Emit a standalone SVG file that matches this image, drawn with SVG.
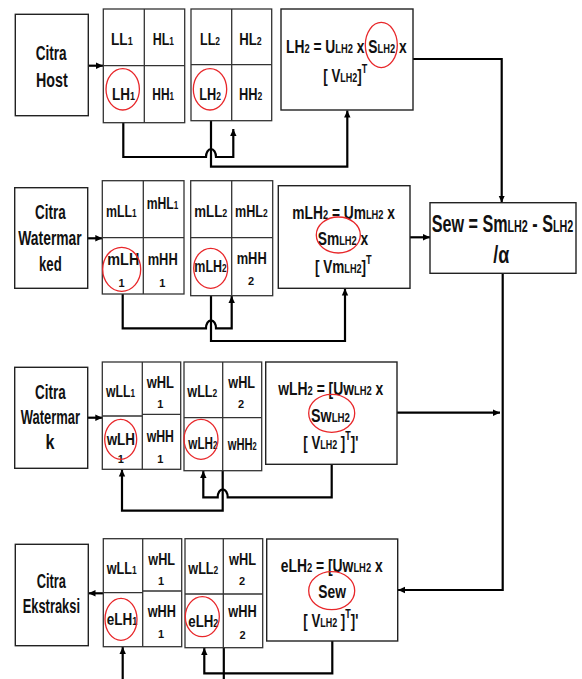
<svg xmlns="http://www.w3.org/2000/svg" width="582" height="679" viewBox="0 0 582 679">
<defs>
<marker id="ah" markerUnits="userSpaceOnUse" markerWidth="8" markerHeight="8" refX="7" refY="4" orient="auto">
<path d="M0,0.8 L7,4 L0,7.2 z" fill="#000"/>
</marker>
<style>
.box{fill:#fff;stroke:#222;stroke-width:1.4}
.grid{fill:none;stroke:#333;stroke-width:1.3}
.c{fill:none;stroke:#000;stroke-width:2.2}
.ca{fill:none;stroke:#000;stroke-width:2.2;marker-end:url(#ah)}
.ring{fill:none;stroke:#e8272a;stroke-width:1.3}
text{font-family:"Liberation Sans Narrow","Liberation Sans",Arial,sans-serif;font-weight:bold;fill:#111}
.big{font-size:20px}
.lab{font-size:16.5px}
.s{font-size:11px}
.f{font-size:18.5px}
.fs{font-size:12.5px}
.one{font-size:11px;text-anchor:middle}
</style>
</defs>

<g id="connectors">
<path class="ca" d="M88.3,65.7 H103"/>
<path class="ca" d="M123.3,122.7 V157 H206 A5,8 0 0 1 216,157 H233.3 V129"/>
<path class="ca" d="M211,120.7 V166.7 H347.3 V110.5"/>
<path class="ca" d="M413,59 H501.7 V202.5"/>
<path class="ca" d="M87.7,238.3 H102.3"/>
<path class="ca" d="M122.7,294 V328.3 H206 A5,8 0 0 1 216,328.3 H231.7 V296"/>
<path class="ca" d="M211,295.7 V341 H345 V288.5"/>
<path class="ca" d="M410,237.3 H430"/>
<path class="ca" d="M502.7,273.3 V590 H398"/>
<path class="ca" d="M87.7,417.7 H102.3"/>
<path class="ca" d="M397,412.7 H500"/>
<path class="ca" d="M222.7,470.7 V510.7 H122 V469.5"/>
<path class="ca" d="M331.7,464.3 V497.3 H227.7 A5,8 0 0 0 217.7,497.3 H203.3 V471"/>
<path class="ca" d="M103.3,593.3 H88.5"/>
<path class="ca" d="M122.7,679 V647"/>
<path class="ca" d="M332.3,641 V673.3 H204.3 V648"/>
<path class="c" d="M223.8,647.7 V679"/>
</g>

<g id="citra-host">
<rect class="box" x="15.3" y="14.3" width="73" height="101.4"/>
<text class="big" x="35.7" y="60" textLength="31" lengthAdjust="spacingAndGlyphs">Citra</text>
<text class="big" x="36" y="86.7" textLength="31.7" lengthAdjust="spacingAndGlyphs">Host</text>
</g>

<g id="grid-host-1">
<rect class="grid" x="103.3" y="9" width="81.4" height="113.7"/>
<path class="grid" d="M144.3,9 V122.7 M103.3,65.7 H184.7"/>
<text class="lab" x="111" y="45" textLength="21.7" lengthAdjust="spacingAndGlyphs">LL<tspan class="s">1</tspan></text>
<text class="lab" x="152.7" y="45" textLength="21.3" lengthAdjust="spacingAndGlyphs">HL<tspan class="s">1</tspan></text>
<text class="lab" x="112" y="100" textLength="23" lengthAdjust="spacingAndGlyphs">LH<tspan class="s">1</tspan></text>
<text class="lab" x="152.3" y="100" textLength="21.7" lengthAdjust="spacingAndGlyphs">HH<tspan class="s">1</tspan></text>
<ellipse class="ring" cx="122.7" cy="89.3" rx="16.7" ry="20.7"/>
</g>

<g id="grid-host-2">
<rect class="grid" x="191" y="9" width="80.7" height="111.7"/>
<path class="grid" d="M231.7,9 V120.7 M191,64.7 H271.7"/>
<text class="lab" x="200" y="45" textLength="20" lengthAdjust="spacingAndGlyphs">LL<tspan class="s">2</tspan></text>
<text class="lab" x="239.3" y="45" textLength="22.4" lengthAdjust="spacingAndGlyphs">HL<tspan class="s">2</tspan></text>
<text class="lab" x="199.3" y="100" textLength="21.7" lengthAdjust="spacingAndGlyphs">LH<tspan class="s">2</tspan></text>
<text class="lab" x="239" y="100" textLength="23.3" lengthAdjust="spacingAndGlyphs">HH<tspan class="s">2</tspan></text>
<ellipse class="ring" cx="210" cy="89.3" rx="16.7" ry="20.7"/>
</g>

<g id="svd-host">
<rect class="box" x="281" y="9" width="132" height="101"/>
<text class="f" x="286" y="53.3" textLength="120.7" lengthAdjust="spacingAndGlyphs">LH<tspan class="fs">2</tspan> = U<tspan class="fs">LH2</tspan> x S<tspan class="fs">LH2</tspan> x</text>
<text class="f" x="323.3" y="81.7" textLength="44" lengthAdjust="spacingAndGlyphs">[ V<tspan class="fs">LH2</tspan>]<tspan class="fs" dy="-9">T</tspan></text>
<ellipse class="ring" cx="381.3" cy="45" rx="16" ry="22.6"/>
</g>

<g id="citra-watermarked">
<rect class="box" x="14.7" y="187.7" width="73" height="100.6"/>
<text class="big" x="35" y="219.3" textLength="30.7" lengthAdjust="spacingAndGlyphs">Citra</text>
<text class="big" x="18.3" y="245" textLength="63.4" lengthAdjust="spacingAndGlyphs">Watermar</text>
<text class="big" x="39" y="270.7" textLength="22.7" lengthAdjust="spacingAndGlyphs">ked</text>
</g>

<g id="grid-wm-1">
<rect class="grid" x="102.3" y="180.7" width="81.7" height="113.3"/>
<path class="grid" d="M143.3,180.7 V294 M102.3,237.7 H184"/>
<text class="lab" x="106" y="216.7" textLength="30.7" lengthAdjust="spacingAndGlyphs">mLL<tspan class="s">1</tspan></text>
<text class="lab" x="146.7" y="209.3" textLength="31.6" lengthAdjust="spacingAndGlyphs">mHL<tspan class="s">1</tspan></text>
<text class="lab" x="107.3" y="265" textLength="32" lengthAdjust="spacingAndGlyphs">mLH</text>
<text class="one" x="121.5" y="286.7">1</text>
<text class="lab" x="147.7" y="265" textLength="30" lengthAdjust="spacingAndGlyphs">mHH</text>
<text class="one" x="162.3" y="286.7">1</text>
<ellipse class="ring" cx="121.7" cy="269.3" rx="19" ry="22"/>
</g>

<g id="grid-wm-2">
<rect class="grid" x="190.7" y="180.7" width="82" height="115"/>
<path class="grid" d="M231.7,180.7 V295.7 M190.7,237.7 H272.7"/>
<text class="lab" x="194.3" y="216.7" textLength="33" lengthAdjust="spacingAndGlyphs">mLL<tspan class="s">2</tspan></text>
<text class="lab" x="235" y="216.7" textLength="32.7" lengthAdjust="spacingAndGlyphs">mHL<tspan class="s">2</tspan></text>
<text class="lab" x="194.3" y="271.7" textLength="32.4" lengthAdjust="spacingAndGlyphs">mLH<tspan class="s">2</tspan></text>
<text class="lab" x="236.7" y="264.3" textLength="30" lengthAdjust="spacingAndGlyphs">mHH</text>
<text class="one" x="251" y="285">2</text>
<ellipse class="ring" cx="210.7" cy="268.3" rx="17" ry="20"/>
</g>

<g id="svd-wm">
<rect class="box" x="278.3" y="185.7" width="131.7" height="102.6"/>
<text class="f" x="292.3" y="219.3" textLength="102.7" lengthAdjust="spacingAndGlyphs">mLH<tspan class="fs">2</tspan> = Um<tspan class="fs">LH2</tspan> x</text>
<text class="f" x="317.7" y="245" textLength="50.6" lengthAdjust="spacingAndGlyphs">Sm<tspan class="fs">LH2</tspan> x</text>
<text class="f" x="315" y="272.7" textLength="56.7" lengthAdjust="spacingAndGlyphs">[ Vm<tspan class="fs">LH2</tspan>]<tspan class="fs" dy="-9">T</tspan></text>
<ellipse class="ring" cx="338.3" cy="235" rx="22" ry="18"/>
</g>

<g id="sew">
<rect class="box" x="430" y="202.7" width="146" height="70.6"/>
<text style="font-size:24px" x="431.7" y="231.7" textLength="141.6" lengthAdjust="spacingAndGlyphs">Sew = Sm<tspan style="font-size:16px">LH2</tspan> - S<tspan style="font-size:16px">LH2</tspan></text>
<text style="font-size:24px" x="493.3" y="263.3" textLength="16" lengthAdjust="spacingAndGlyphs">/α</text>
</g>

<g id="citra-watermark">
<rect class="box" x="14.7" y="367.3" width="73" height="101"/>
<text class="big" x="35" y="399.3" textLength="30.7" lengthAdjust="spacingAndGlyphs">Citra</text>
<text class="big" x="20.7" y="424" textLength="59.3" lengthAdjust="spacingAndGlyphs">Watermar</text>
<text class="big" x="50" y="449" text-anchor="middle" textLength="9" lengthAdjust="spacingAndGlyphs">k</text>
</g>

<g id="grid-w-1">
<rect class="grid" x="102.3" y="362" width="78.4" height="107.3"/>
<path class="grid" d="M142.3,362 V469.3 M102.3,416 H142.3 M142.3,414.3 H180.7"/>
<text class="lab" x="106" y="397.3" textLength="29" lengthAdjust="spacingAndGlyphs">wLL<tspan class="s">1</tspan></text>
<text class="lab" x="146.7" y="388.3" textLength="27.3" lengthAdjust="spacingAndGlyphs">wHL</text>
<text class="one" x="160.3" y="408.3">1</text>
<text class="lab" x="106.7" y="445" textLength="28.3" lengthAdjust="spacingAndGlyphs">wLH</text>
<text class="one" x="120.7" y="462.7">1</text>
<text class="lab" x="146.7" y="441.7" textLength="27.3" lengthAdjust="spacingAndGlyphs">wHH</text>
<text class="one" x="160.3" y="462.7">1</text>
<ellipse class="ring" cx="120.7" cy="439.3" rx="16" ry="20"/>
</g>

<g id="grid-w-2">
<rect class="grid" x="184" y="362" width="77.7" height="108.7"/>
<path class="grid" d="M222.7,362 V470.7 M184,417.7 H261.7"/>
<text class="lab" x="187.3" y="397.3" textLength="30" lengthAdjust="spacingAndGlyphs">wLL<tspan class="s">2</tspan></text>
<text class="lab" x="228.3" y="388.3" textLength="26.7" lengthAdjust="spacingAndGlyphs">wHL</text>
<text class="one" x="241" y="408.3">2</text>
<text class="lab" x="188.3" y="449" textLength="29" lengthAdjust="spacingAndGlyphs">wLH<tspan class="s">2</tspan></text>
<text class="lab" x="227.7" y="450" textLength="29" lengthAdjust="spacingAndGlyphs">wHH<tspan class="s">2</tspan></text>
<ellipse class="ring" cx="201" cy="439.3" rx="17" ry="20"/>
</g>

<g id="svd-w">
<rect class="box" x="265.7" y="362" width="131.3" height="102.3"/>
<text class="f" x="278.3" y="395" textLength="105" lengthAdjust="spacingAndGlyphs">wLH<tspan class="fs">2</tspan> = [Uw<tspan class="fs">LH2</tspan> x</text>
<text class="f" x="311" y="421.7" textLength="39" lengthAdjust="spacingAndGlyphs">Sw<tspan class="fs">LH2</tspan></text>
<text class="f" x="303.3" y="449.3" textLength="55" lengthAdjust="spacingAndGlyphs">[ V<tspan class="fs">LH2</tspan> ]<tspan class="fs" dy="-9">T</tspan><tspan dy="9">]'</tspan></text>
<ellipse class="ring" cx="331.7" cy="413.3" rx="23" ry="19"/>
</g>

<g id="citra-ekstraksi">
<rect class="box" x="15.3" y="544.3" width="73" height="101.4"/>
<text class="big" x="36.7" y="588.3" textLength="29.3" lengthAdjust="spacingAndGlyphs">Citra</text>
<text class="big" x="22.7" y="613.3" textLength="57.3" lengthAdjust="spacingAndGlyphs">Ekstraksi</text>
</g>

<g id="grid-e-1">
<rect class="grid" x="103.3" y="538.7" width="78.4" height="108"/>
<path class="grid" d="M142.7,538.7 V646.7 M103.3,592.7 H142.7 M142.7,591 H181.7"/>
<text class="lab" x="106.7" y="574" textLength="30" lengthAdjust="spacingAndGlyphs">wLL<tspan class="s">1</tspan></text>
<text class="lab" x="148.3" y="565" textLength="26.7" lengthAdjust="spacingAndGlyphs">wHL</text>
<text class="one" x="161" y="585">1</text>
<text class="lab" x="106.7" y="625" textLength="30.6" lengthAdjust="spacingAndGlyphs">eLH<tspan class="s">1</tspan></text>
<text class="lab" x="147.7" y="616.7" textLength="28.3" lengthAdjust="spacingAndGlyphs">wHH</text>
<text class="one" x="161" y="638.3">1</text>
<ellipse class="ring" cx="121" cy="619.3" rx="16" ry="21"/>
</g>

<g id="grid-e-2">
<rect class="grid" x="185" y="538.7" width="77.7" height="109"/>
<path class="grid" d="M223.3,538.7 V647.7 M185,594 H262.7"/>
<text class="lab" x="188.3" y="574" textLength="30" lengthAdjust="spacingAndGlyphs">wLL<tspan class="s">2</tspan></text>
<text class="lab" x="229" y="565" textLength="27" lengthAdjust="spacingAndGlyphs">wHL</text>
<text class="one" x="242" y="585">2</text>
<text class="lab" x="188.3" y="626.7" textLength="30" lengthAdjust="spacingAndGlyphs">eLH<tspan class="s">2</tspan></text>
<text class="lab" x="228.3" y="616.7" textLength="28.4" lengthAdjust="spacingAndGlyphs">wHH</text>
<text class="one" x="242.5" y="639.3">2</text>
<ellipse class="ring" cx="202.3" cy="616.7" rx="17" ry="20"/>
</g>

<g id="svd-e">
<rect class="box" x="266.7" y="539" width="131" height="102"/>
<text class="f" x="280.7" y="571.7" textLength="102" lengthAdjust="spacingAndGlyphs">eLH<tspan class="fs">2</tspan> = [Uw<tspan class="fs">LH2</tspan> x</text>
<text class="f" x="318.3" y="598.3" textLength="27.7" lengthAdjust="spacingAndGlyphs">Sew</text>
<text class="f" x="303.3" y="626.7" textLength="55" lengthAdjust="spacingAndGlyphs">[ V<tspan class="fs">LH2</tspan> ]<tspan class="fs" dy="-9">T</tspan><tspan dy="9">]'</tspan></text>
<ellipse class="ring" cx="331.7" cy="590.7" rx="23" ry="19"/>
</g>
</svg>
